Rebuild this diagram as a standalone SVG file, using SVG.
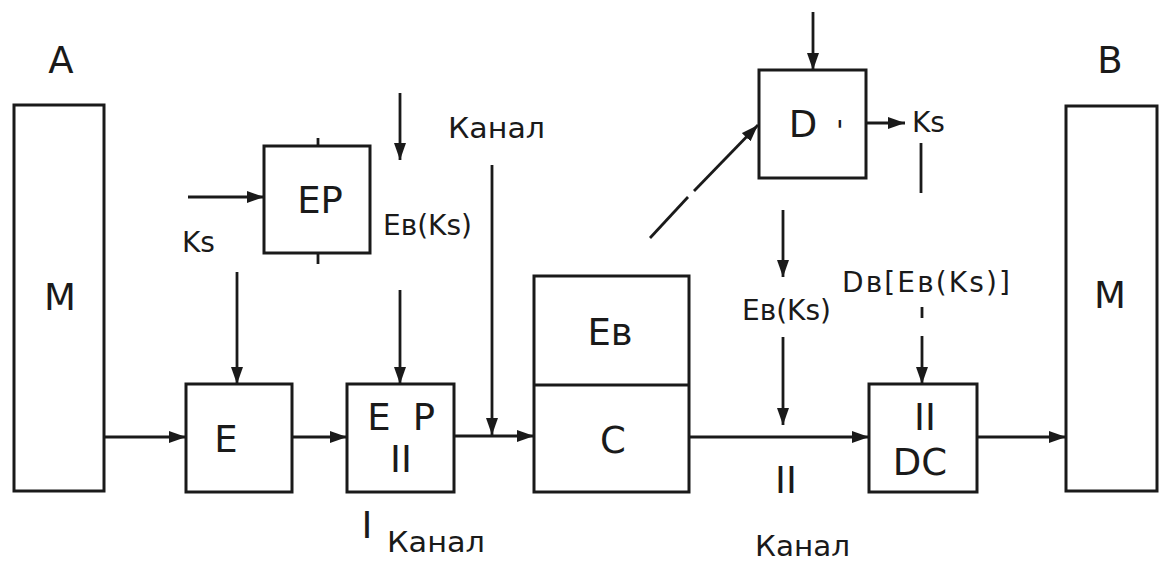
<svg xmlns="http://www.w3.org/2000/svg" width="1159" height="564" viewBox="0 0 1159 564">
<defs>
<style>
.box{fill:none;stroke:#1a1a1a;stroke-width:3}
.ln{fill:none;stroke:#1a1a1a;stroke-width:2.8}
.big{font-family:"DejaVu Sans","Verdana",sans-serif;font-size:37px;fill:#1a1a1a;text-anchor:middle}
.sm{font-family:"DejaVu Sans","Verdana",sans-serif;font-size:28px;fill:#1a1a1a}
</style>
<marker id="ah" markerUnits="userSpaceOnUse" markerWidth="17" markerHeight="12" refX="17" refY="6" orient="auto">
<path d="M0,0 L17,6 L0,12 z" fill="#1a1a1a"/>
</marker>
</defs>
<rect width="1159" height="564" fill="#ffffff"/>

<g id="M-left">
<rect class="box" x="14" y="105" width="90" height="386"/>
<text class="big" x="61" y="73" font-size="34">A</text>
<text class="big" x="60" y="310">M</text>
</g>

<g id="M-right">
<rect class="box" x="1066" y="106" width="91" height="385"/>
<text class="big" x="1110" y="73" font-size="34">B</text>
<text class="big" x="1110" y="308">M</text>
</g>

<g id="E">
<rect class="box" x="186" y="384" width="106" height="108"/>
<text class="big" x="226" y="452">E</text>
</g>

<g id="EP-top">
<rect class="box" x="264" y="146" width="106" height="107"/>
<line class="ln" x1="318" y1="138" x2="318" y2="146"/>
<line class="ln" x1="318" y1="253" x2="318" y2="264"/>
<text class="big" x="320" y="213" font-size="36">EP</text>
</g>

<g id="EP-II">
<rect class="box" x="347" y="384" width="107" height="108"/>
<text class="big" x="379" y="430">E</text>
<text class="big" x="424" y="430">P</text>
<text class="big" x="401" y="472">II</text>
</g>

<g id="C">
<rect class="box" x="534" y="276" width="155" height="216"/>
<line class="box" x1="534" y1="385" x2="689" y2="385"/>
<text class="big" x="610" y="345">Eв</text>
<text class="big" x="613" y="453">C</text>
</g>

<g id="D">
<rect class="box" x="759" y="70" width="107" height="108"/>
<text class="big" x="803" y="137">D</text>
<text class="sm" x="836" y="141" font-size="34">'</text>
</g>

<g id="DC">
<rect class="box" x="869" y="384" width="108" height="108"/>
<text class="big" x="925" y="430">II</text>
<text class="big" x="920" y="475">DC</text>
</g>

<g id="labels">
<text class="sm" x="182" y="252" font-size="29">Ks</text>
<text class="sm" x="383" y="235">Eв(Ks)</text>
<text class="sm" x="448" y="138" font-size="30" textLength="97" lengthAdjust="spacingAndGlyphs">Канал</text>
<text class="sm" x="912" y="132" font-size="29">Ks</text>
<text class="sm" x="742" y="320">Eв(Ks)</text>
<text class="sm" x="842" y="292" font-size="25" textLength="168" lengthAdjust="spacing">Dв[Eв(Ks)]</text>
<text class="big" x="786" y="493">II</text>
<text class="sm" x="755" y="556" font-size="30" textLength="95" lengthAdjust="spacingAndGlyphs">Канал</text>
<text class="big" x="367" y="538">I</text>
<text class="sm" x="387" y="552" font-size="30" textLength="98" lengthAdjust="spacingAndGlyphs">Канал</text>
</g>

<g id="connectors">
<line class="ln" x1="104" y1="437" x2="186" y2="437" marker-end="url(#ah)"/>
<line class="ln" x1="292" y1="437" x2="347" y2="437" marker-end="url(#ah)"/>
<line class="ln" x1="454" y1="436" x2="534" y2="436" marker-end="url(#ah)"/>
<line class="ln" x1="492" y1="165" x2="492" y2="435" marker-end="url(#ah)"/>
<line class="ln" x1="237" y1="272" x2="237" y2="384" marker-end="url(#ah)"/>
<line class="ln" x1="400" y1="290" x2="400" y2="384" marker-end="url(#ah)"/>
<line class="ln" x1="400" y1="93" x2="400" y2="160" marker-end="url(#ah)"/>
<line class="ln" x1="188" y1="197" x2="264" y2="197" marker-end="url(#ah)"/>
<line class="ln" x1="689" y1="437" x2="869" y2="437" marker-end="url(#ah)"/>
<line class="ln" x1="783" y1="337" x2="783" y2="425" marker-end="url(#ah)"/>
<line class="ln" x1="783" y1="210" x2="783" y2="277" marker-end="url(#ah)"/>
<line class="ln" x1="922" y1="307" x2="922" y2="318"/>
<line class="ln" x1="922" y1="336" x2="922" y2="384" marker-end="url(#ah)"/>
<line class="ln" x1="977" y1="437" x2="1066" y2="437" marker-end="url(#ah)"/>
<line class="ln" x1="813" y1="12" x2="813" y2="70" marker-end="url(#ah)"/>
<line class="ln" x1="866" y1="123" x2="905" y2="123" marker-end="url(#ah)"/>
<line class="ln" x1="921" y1="143" x2="921" y2="193"/>
<line class="ln" x1="650" y1="238" x2="688" y2="197"/>
<line class="ln" x1="694" y1="191" x2="758" y2="125" marker-end="url(#ah)"/>
</g>
</svg>
